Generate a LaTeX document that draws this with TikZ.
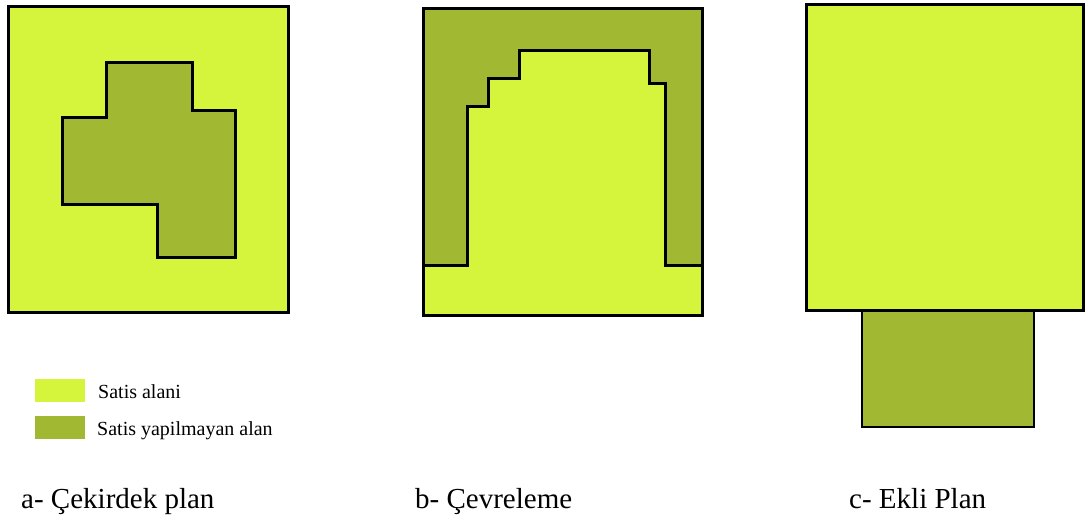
\documentclass[tikz,border=0pt]{standalone}
\usepackage{fontspec}
\setmainfont{Liberation Serif}
\definecolor{salesarea}{RGB}{212,245,59}
\definecolor{nonsales}{RGB}{161,184,51}
\begin{document}
\begin{tikzpicture}[x=1pt,y=-1pt,
  plot/.style={draw=black,line width=3pt,line join=miter},
  thinplot/.style={draw=black,line width=2pt},
  swatch/.style={inner sep=0pt,minimum width=50pt,minimum height=23pt},
  legendtext/.style={inner sep=0pt,anchor=base west,font=\fontsize{20}{24}\selectfont},
  caption/.style={inner sep=0pt,anchor=base west,font=\fontsize{29}{35}\selectfont}]
\useasboundingbox[fill=white] (0,0) rectangle (1086,517);

% a - core plan: sales area around a non-sales core
\fill[salesarea] (8,6) rectangle (288,312);
\draw[plot,fill=nonsales] (106,62) -- (192,62) -- (192,110) -- (235,110) -- (235,257)
  -- (157,257) -- (157,204) -- (62,204) -- (62,117) -- (106,117) -- cycle;
\draw[plot] (8,6) rectangle (288,312);

% b - enclosing plan: non-sales band wrapping the sales area
\fill[nonsales] (423,8) rectangle (702,315);
\fill[salesarea] (423,265) -- (467,265) -- (467,106) -- (488,106) -- (488,78)
  -- (519,78) -- (519,50) -- (649,50) -- (649,83) -- (665,83) -- (665,265)
  -- (702,265) -- (702,315) -- (423,315) -- cycle;
\draw[plot] (423,265) -- (467,265) -- (467,106) -- (488,106) -- (488,78)
  -- (519,78) -- (519,50) -- (649,50) -- (649,83) -- (665,83) -- (665,265)
  -- (702,265);
\draw[plot] (423,8) rectangle (702,315);

% c - attached plan: non-sales block outside the sales area
\draw[thinplot,fill=nonsales] (862,310) rectangle (1034,427);
\draw[plot,fill=salesarea] (806,4) rectangle (1083,310);

% legend
\node[swatch,fill=salesarea,anchor=north west] (lgA) at (35,379) {};
\node[swatch,fill=nonsales,anchor=north west] (lgB) at (35,416) {};
\node[legendtext] (lgAtext) at (98,398) {Satis alani};
\node[legendtext] (lgBtext) at (97,435) {Satis yapilmayan alan};

% captions
\node[caption] (capA) at (21,508) {a- Çekirdek plan};
\node[caption] (capB) at (415,508) {b- Çevreleme};
\node[caption] (capC) at (849,508) {c- Ekli Plan};
\end{tikzpicture}
\end{document}
